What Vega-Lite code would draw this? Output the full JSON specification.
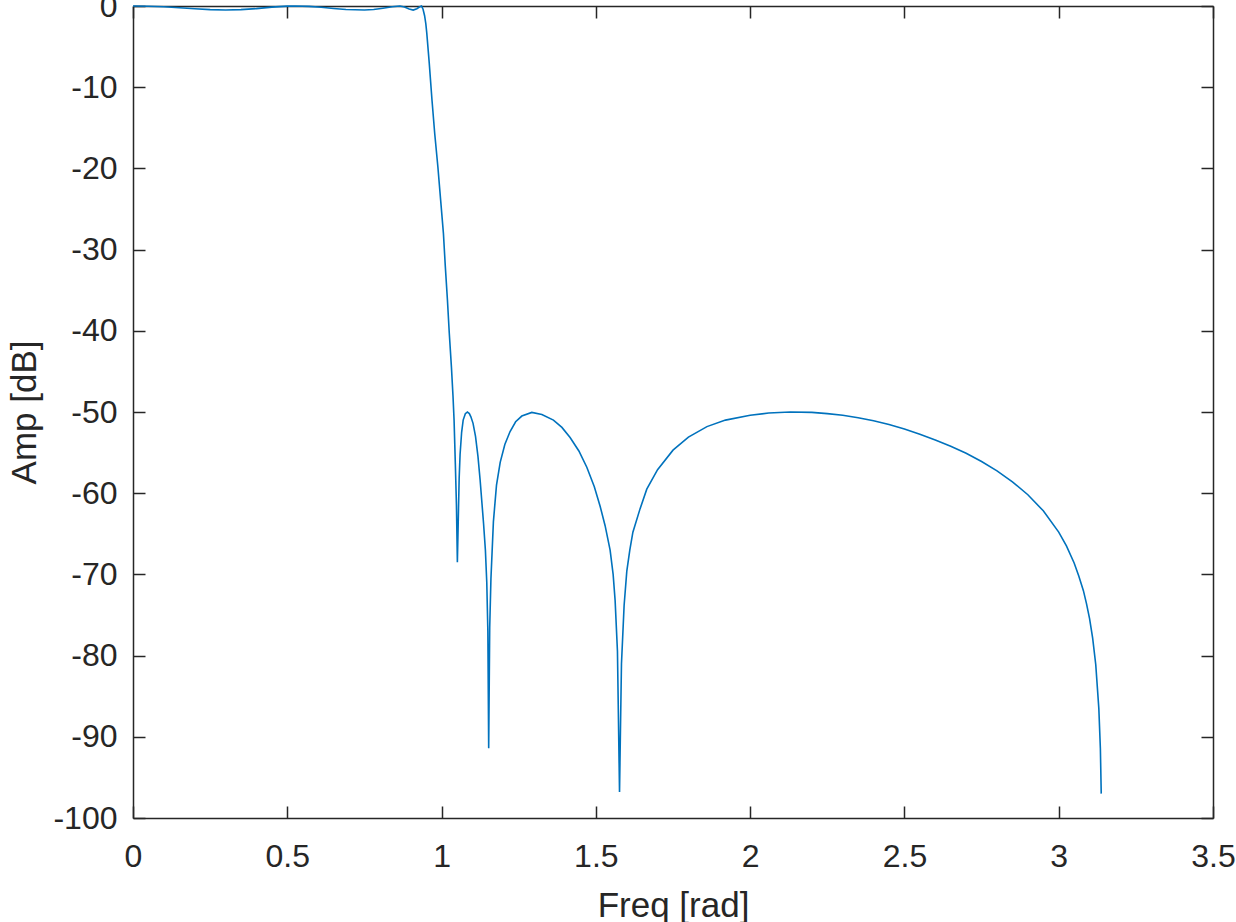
{
  "$schema": "https://vega.github.io/schema/vega-lite/v6.json",
  "width": 1080,
  "height": 812,
  "autosize": {"type": "none"},
  "padding": {"left": 133, "top": 6, "right": 23, "bottom": 104},
  "background": "white",
  "config": {
    "view": {"stroke": null},
    "axis": {
      "domainColor": "#262626", "domainWidth": 1.5,
      "tickColor": "#262626", "tickWidth": 1.5, "tickSize": -12,
      "grid": false,
      "labelFont": "Liberation Sans", "labelFontSize": 32, "labelColor": "#262626",
      "labelFlush": false, "labelOverlap": false,
      "titleFont": "Liberation Sans", "titleFontSize": 35, "titleFontWeight": "normal", "titleColor": "#262626"
    }
  },
  "data": {"values": [
    {"f":0,"dB":0},{"f":0.05,"dB":-0.03},{"f":0.1,"dB":-0.1},{"f":0.15,"dB":-0.21},{"f":0.2,"dB":-0.34},{"f":0.25,"dB":-0.45},{"f":0.3,"dB":-0.5},{"f":0.35,"dB":-0.45},{"f":0.4,"dB":-0.32},{"f":0.45,"dB":-0.14},{"f":0.5,"dB":-0.02},{"f":0.525,"dB":0},{"f":0.57,"dB":-0.05},{"f":0.61,"dB":-0.16},{"f":0.65,"dB":-0.31},{"f":0.69,"dB":-0.44},{"f":0.75,"dB":-0.5},{"f":0.78,"dB":-0.44},{"f":0.81,"dB":-0.28},{"f":0.84,"dB":-0.1},{"f":0.865,"dB":0},{"f":0.88,"dB":-0.12},{"f":0.895,"dB":-0.38},{"f":0.908,"dB":-0.5},{"f":0.92,"dB":-0.33},{"f":0.928,"dB":-0.12},{"f":0.935,"dB":0},{"f":0.94,"dB":-0.4},{"f":0.945,"dB":-1.2},{"f":0.949,"dB":-2.2},{"f":0.952,"dB":-3.3},{"f":0.96,"dB":-7.0},{"f":0.969,"dB":-11.6},{"f":0.978,"dB":-15.8},{"f":0.988,"dB":-19.8},{"f":0.997,"dB":-23.9},{"f":1.006,"dB":-28.0},{"f":1.012,"dB":-32.0},{"f":1.019,"dB":-36.2},{"f":1.025,"dB":-40.3},{"f":1.032,"dB":-44.5},{"f":1.037,"dB":-48.0},{"f":1.0405,"dB":-51.0},{"f":1.0447,"dB":-56.5},{"f":1.0482,"dB":-61.5},{"f":1.0512,"dB":-68.5},{"f":1.054,"dB":-63.5},{"f":1.057,"dB":-58.2},{"f":1.06,"dB":-55.2},{"f":1.065,"dB":-52.5},{"f":1.07,"dB":-51.0},{"f":1.077,"dB":-50.2},{"f":1.0836,"dB":-50.0},{"f":1.09,"dB":-50.2},{"f":1.095,"dB":-50.6},{"f":1.102,"dB":-51.4},{"f":1.11,"dB":-53.0},{"f":1.118,"dB":-55.5},{"f":1.125,"dB":-58.4},{"f":1.131,"dB":-61.3},{"f":1.136,"dB":-63.7},{"f":1.142,"dB":-67.0},{"f":1.1465,"dB":-71.0},{"f":1.15,"dB":-77.0},{"f":1.1527,"dB":-91.4},{"f":1.156,"dB":-76.5},{"f":1.16,"dB":-70.5},{"f":1.168,"dB":-63.5},{"f":1.178,"dB":-59.0},{"f":1.19,"dB":-56.2},{"f":1.205,"dB":-54.0},{"f":1.222,"dB":-52.4},{"f":1.24,"dB":-51.2},{"f":1.26,"dB":-50.5},{"f":1.2924,"dB":-50.05},{"f":1.325,"dB":-50.3},{"f":1.3625,"dB":-51.0},{"f":1.39,"dB":-51.9},{"f":1.4165,"dB":-53.15},{"f":1.445,"dB":-54.8},{"f":1.4707,"dB":-56.8},{"f":1.495,"dB":-59.2},{"f":1.5138,"dB":-61.6},{"f":1.53,"dB":-64.0},{"f":1.5462,"dB":-67.0},{"f":1.556,"dB":-70.0},{"f":1.5624,"dB":-73.2},{"f":1.57,"dB":-79.5},{"f":1.5767,"dB":-96.8},{"f":1.583,"dB":-81.0},{"f":1.5916,"dB":-73.8},{"f":1.6003,"dB":-69.6},{"f":1.61,"dB":-67.0},{"f":1.62,"dB":-64.8},{"f":1.6434,"dB":-61.9},{"f":1.665,"dB":-59.5},{"f":1.7,"dB":-57.1},{"f":1.75,"dB":-54.7},{"f":1.8,"dB":-53.1},{"f":1.86,"dB":-51.8},{"f":1.92,"dB":-51.0},{"f":2.0,"dB":-50.4},{"f":2.06,"dB":-50.13},{"f":2.13,"dB":-50.0},{"f":2.2,"dB":-50.05},{"f":2.25,"dB":-50.2},{"f":2.3,"dB":-50.41},{"f":2.35,"dB":-50.7},{"f":2.4,"dB":-51.07},{"f":2.45,"dB":-51.55},{"f":2.5,"dB":-52.1},{"f":2.55,"dB":-52.74},{"f":2.6,"dB":-53.44},{"f":2.65,"dB":-54.22},{"f":2.7,"dB":-55.08},{"f":2.75,"dB":-56.1},{"f":2.8,"dB":-57.25},{"f":2.85,"dB":-58.6},{"f":2.9,"dB":-60.19},{"f":2.95,"dB":-62.17},{"f":3.0,"dB":-64.79},{"f":3.025,"dB":-66.5},{"f":3.05,"dB":-68.6},{"f":3.065,"dB":-70.2},{"f":3.08,"dB":-72.0},{"f":3.09,"dB":-73.6},{"f":3.1,"dB":-75.45},{"f":3.11,"dB":-77.85},{"f":3.12,"dB":-81.1},{"f":3.13,"dB":-86.5},{"f":3.135,"dB":-91.4},{"f":3.1378,"dB":-97.0}
  ]},
  "layer": [
    {
      "mark": {"type": "line", "color": "#0072BD", "strokeWidth": 1.6},
      "encoding": {
        "x": {"field": "f", "type": "quantitative", "scale": {"domain": [0, 3.5], "nice": false},
          "axis": {"orient": "bottom", "values": [0,0.5,1,1.5,2,2.5,3,3.5], "labelExpr": "toString(datum.value)", "labelPadding": 35,
            "title": "Freq [rad]", "titleX": 540, "titleY": 98, "titleBaseline": "alphabetic", "titleAlign": "center"}},
        "y": {"field": "dB", "type": "quantitative", "scale": {"domain": [-100, 0], "nice": false, "zero": false},
          "axis": {"orient": "left", "values": [-100,-90,-80,-70,-60,-50,-40,-30,-20,-10,0], "labelExpr": "toString(datum.value)", "labelPadding": 28,
            "title": "Amp [dB]", "titleX": -98, "titleY": 406, "titleBaseline": "alphabetic", "titleAlign": "center", "titleAngle": 270}}
      }
    },
    {
      "mark": {"type": "line", "opacity": 0},
      "encoding": {
        "x": {"field": "f", "type": "quantitative", "scale": {"domain": [0, 3.5], "nice": false},
          "axis": {"orient": "top", "values": [0,0.5,1,1.5,2,2.5,3,3.5], "labels": false, "title": null}},
        "y": {"field": "dB", "type": "quantitative", "scale": {"domain": [-100, 0], "nice": false, "zero": false},
          "axis": {"orient": "right", "values": [-100,-90,-80,-70,-60,-50,-40,-30,-20,-10,0], "labels": false, "title": null}}
      }
    }
  ],
  "resolve": {"axis": {"x": "independent", "y": "independent"}}
}
